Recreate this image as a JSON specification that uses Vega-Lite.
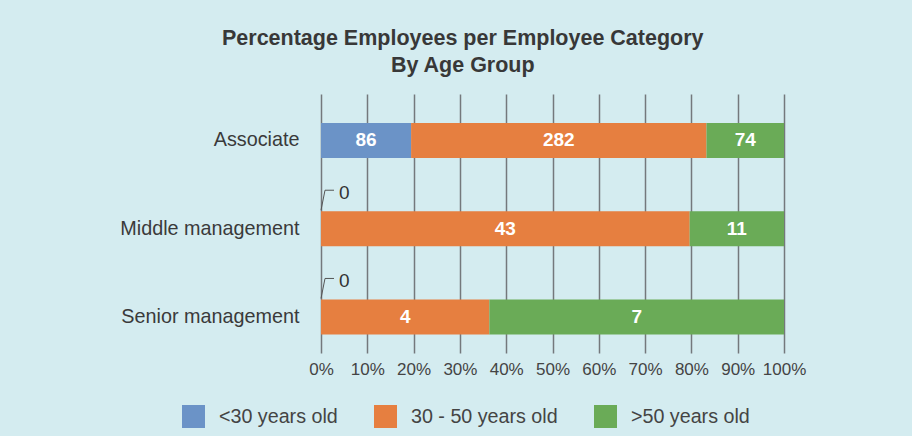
{
  "$schema": "https://vega.github.io/schema/vega-lite/v6.json",
  "width": 463,
  "height": 259,
  "autosize": {"type": "none"},
  "padding": {"left": 321, "top": 94, "right": 128, "bottom": 83},
  "background": "#d4ecf0",
  "title": {
    "text": ["Percentage Employees per Employee Category", "By Age Group"],
    "font": "Liberation Sans",
    "fontSize": 21.5,
    "fontWeight": "bold",
    "color": "#383838",
    "lineHeight": 27,
    "offset": 18,
    "anchor": "middle",
    "frame": "bounds"
  },
  "data": {
    "values": [
      {"category": "Associate", "group": "<30 years old", "ord": 1, "count": 86},
      {"category": "Associate", "group": "30 - 50 years old", "ord": 2, "count": 282},
      {"category": "Associate", "group": ">50 years old", "ord": 3, "count": 74},
      {"category": "Middle management", "group": "<30 years old", "ord": 1, "count": 0},
      {"category": "Middle management", "group": "30 - 50 years old", "ord": 2, "count": 43},
      {"category": "Middle management", "group": ">50 years old", "ord": 3, "count": 11},
      {"category": "Senior management", "group": "<30 years old", "ord": 1, "count": 0},
      {"category": "Senior management", "group": "30 - 50 years old", "ord": 2, "count": 4},
      {"category": "Senior management", "group": ">50 years old", "ord": 3, "count": 7}
    ]
  },
  "transform": [
    {"stack": "count", "groupby": ["category"], "sort": [{"field": "ord"}], "offset": "normalize", "as": ["x0", "x1"]},
    {"calculate": "(datum.x0 + datum.x1) / 2", "as": "mid"}
  ],
  "encoding": {
    "y": {
      "field": "category",
      "type": "nominal",
      "sort": ["Associate", "Middle management", "Senior management"],
      "scale": {"paddingInner": 0.603, "paddingOuter": 0.269, "align": 0.61},
      "axis": {
        "title": null,
        "domain": false,
        "ticks": false,
        "labelPadding": 22,
        "labelFont": "Liberation Sans",
        "labelFontSize": 19.8,
        "labelColor": "#3a3a3a"
      }
    }
  },
  "layer": [
    {
      "mark": {"type": "bar"},
      "encoding": {
        "x": {
          "field": "x0",
          "type": "quantitative",
          "scale": {"domain": [0, 1], "nice": false},
          "axis": {
            "title": null,
            "values": [0, 0.1, 0.2, 0.3, 0.4, 0.5, 0.6, 0.7, 0.8, 0.9, 1],
            "format": ".0%",
            "domain": false,
            "ticks": false,
            "grid": true,
            "gridColor": "#74787c",
            "gridWidth": 1.5,
            "labelPadding": 8,
            "labelFont": "Liberation Sans",
            "labelFontSize": 17,
            "labelColor": "#444444",
            "labelFlush": false
          }
        },
        "x2": {"field": "x1"},
        "color": {
          "field": "group",
          "type": "nominal",
          "scale": {
            "domain": ["<30 years old", "30 - 50 years old", ">50 years old"],
            "range": ["#6b93c7", "#e67f40", "#6aab57"]
          },
          "legend": {
            "title": null,
            "orient": "none",
            "legendX": -139,
            "legendY": 311,
            "direction": "horizontal",
            "padding": 0,
            "symbolType": "square",
            "symbolSize": 529,
            "symbolStrokeWidth": 0,
            "symbolOpacity": 1,
            "labelOffset": 14,
            "columnPadding": 36,
            "labelFont": "Liberation Sans",
            "labelFontSize": 19.7,
            "labelColor": "#444444"
          }
        }
      }
    },
    {
      "transform": [{"filter": "datum.count > 0"}],
      "mark": {"type": "text", "color": "white", "fontWeight": "bold", "fontSize": 19, "font": "Liberation Sans", "baseline": "middle", "align": "center"},
      "encoding": {
        "x": {"field": "mid", "type": "quantitative"},
        "text": {"field": "count", "type": "quantitative"}
      }
    },
    {
      "transform": [{"filter": "datum.count == 0"}],
      "mark": {"type": "text", "color": "#333333", "fontSize": 19, "font": "Liberation Sans", "baseline": "middle", "align": "left", "dx": 18, "dy": -35.5},
      "encoding": {
        "x": {"field": "x0", "type": "quantitative"},
        "text": {"field": "count", "type": "quantitative"}
      }
    },
    {
      "transform": [{"filter": "datum.count == 0"}],
      "mark": {"type": "rule", "color": "#555555", "strokeWidth": 1, "yOffset": -18.5, "y2Offset": -38.5, "x2Offset": 4},
      "encoding": {
        "x": {"field": "x0", "type": "quantitative"},
        "x2": {"field": "x0"},
        "y2": {"field": "category"}
      }
    },
    {
      "transform": [{"filter": "datum.count == 0"}],
      "mark": {"type": "rule", "color": "#555555", "strokeWidth": 1, "yOffset": -38.5, "xOffset": 4, "x2Offset": 13},
      "encoding": {
        "x": {"field": "x0", "type": "quantitative"},
        "x2": {"field": "x0"}
      }
    }
  ],
  "config": {"view": {"stroke": null}, "font": "Liberation Sans"}
}
